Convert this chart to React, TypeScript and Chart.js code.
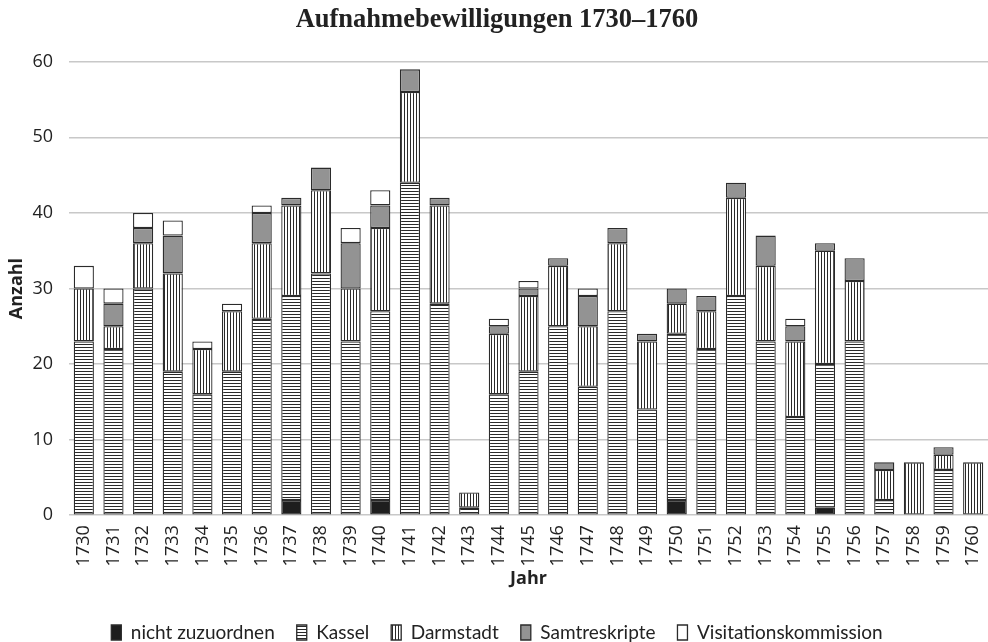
import React, { useEffect, useRef } from "react";
import { Chart, registerables } from "chart.js";

Chart.register(...registerables);

const years = ["1730","1731","1732","1733","1734","1735","1736","1737","1738","1739","1740","1741","1742","1743","1744","1745","1746","1747","1748","1749","1750","1751","1752","1753","1754","1755","1756","1757","1758","1759","1760"];
const nichtZuzuordnen = [0,0,0,0,0,0,0,2,0,0,2,0,0,0,0,0,0,0,0,0,2,0,0,0,0,1,0,0,0,0,0];
const kassel = [23,22,30,19,16,19,26,27,32,23,25,44,28,1,16,19,25,17,27,14,22,22,29,23,13,19,23,2,0,6,0];
const darmstadt = [7,3,6,13,6,8,10,12,11,7,11,12,13,2,8,10,8,8,9,9,4,5,13,10,10,15,8,4,7,2,7];
const samtreskripte = [0,3,2,5,0,0,4,1,3,6,3,3,1,0,1,1,1,4,2,1,2,2,2,4,2,1,3,1,0,1,0];
const visitation = [3,2,2,2,1,1,1,0,0,2,2,0,0,0,1,1,0,1,0,0,0,0,0,0,1,0,0,0,0,0,0];

function makePattern(kind: "h" | "v"): CanvasPattern | string {
  const c = document.createElement("canvas");
  c.width = 3;
  c.height = 3;
  const ctx = c.getContext("2d");
  if (!ctx) return "#fff";
  ctx.fillStyle = "#ffffff";
  ctx.fillRect(0, 0, 3, 3);
  ctx.fillStyle = "#2a2a2a";
  if (kind === "h") ctx.fillRect(0, 2, 3, 1);
  else ctx.fillRect(2, 0, 1, 3);
  const p = ctx.createPattern(c, "repeat");
  return p || "#fff";
}

const nz = (arr: number[]) => arr.map((v) => (v === 0 ? null : v));

export default function App() {
  const ref = useRef<HTMLCanvasElement | null>(null);
  useEffect(() => {
    if (!ref.current) return;
    const hPat = makePattern("h");
    const vPat = makePattern("v");
    const border = "#2b2b2b";
    const common = { borderColor: border, borderWidth: 1.3, barPercentage: 0.68, categoryPercentage: 1.0, borderSkipped: false as const };
    const chart = new Chart(ref.current, {
      type: "bar",
      data: {
        labels: years,
        datasets: [
          { label: "nicht zuzuordnen", data: nz(nichtZuzuordnen), backgroundColor: "#1e1e1e", ...common },
          { label: "Kassel", data: nz(kassel), backgroundColor: hPat as any, ...common },
          { label: "Darmstadt", data: nz(darmstadt), backgroundColor: vPat as any, ...common },
          { label: "Samtreskripte", data: nz(samtreskripte), backgroundColor: "#939393", ...common },
          { label: "Visitationskommission", data: nz(visitation), backgroundColor: "#ffffff", ...common },
        ],
      },
      options: {
        animation: false,
        responsive: false,
        maintainAspectRatio: false,
        layout: { padding: { left: 6, right: 0, top: 0, bottom: -10 } },
        plugins: {
          tooltip: { enabled: false },
          title: {
            display: true,
            text: "Aufnahmebewilligungen 1730–1760",
            color: "#222",
            font: { family: "'Liberation Serif', serif", size: 26.5, weight: "bold" },
            padding: { top: 4, bottom: 26 },
          },
          legend: {
            position: "bottom",
            labels: {
              color: "#222",
              font: { family: "Lato, 'Noto Sans', sans-serif", size: 19 },
              boxWidth: 10,
              boxHeight: 15,
              padding: 22,
            },
          },
        },
        scales: {
          x: {
            stacked: true,
            grid: { display: false },
            border: { display: false },
            afterFit: (s: any) => {
              s.paddingLeft = 0;
              s.paddingRight = 0;
            },
            ticks: {
              color: "#222",
              font: { family: "'Open Sans', sans-serif", size: 18 },
              maxRotation: 90,
              minRotation: 90,
              autoSkip: false,
              padding: 2,
            },
            title: {
              display: true,
              text: "Jahr",
              color: "#222",
              font: { family: "'Open Sans', sans-serif", size: 18, weight: "bold" },
              padding: { top: 0, bottom: 11 },
            },
          },
          y: {
            stacked: true,
            min: 0,
            max: 60,
            afterFit: (s: any) => {
              s.width = 63;
            },
            grid: { color: "#c8c8c8", lineWidth: 1.5, drawTicks: false },
            border: { display: false },
            ticks: {
              stepSize: 10,
              color: "#222",
              font: { family: "'Open Sans', sans-serif", size: 18 },
              padding: 16,
            },
            title: {
              display: true,
              text: "Anzahl",
              color: "#222",
              font: { family: "'Open Sans', sans-serif", size: 18, weight: "bold" },
              padding: { top: 0, bottom: 0 },
            },
          },
        },
      },
    });
    return () => chart.destroy();
  }, []);
  return (
    <div style={{ position: "fixed", left: 0, top: 0, width: 988, height: 642, background: "#fff" }}>
      <canvas ref={ref} width={988} height={642} style={{ width: 988, height: 642, display: "block" }} />
    </div>
  );
}
